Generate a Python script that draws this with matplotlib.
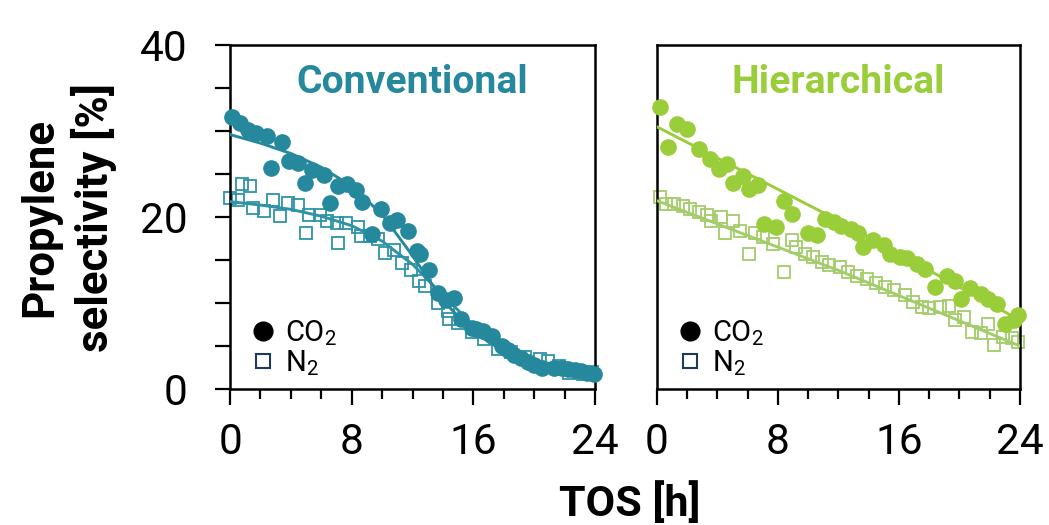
import numpy as np
import matplotlib
matplotlib.use("Agg")
import matplotlib.pyplot as plt
from matplotlib.lines import Line2D
from matplotlib.ticker import MultipleLocator

plt.rcParams['font.family'] = ['Roboto', 'DejaVu Sans']
plt.rcParams['mathtext.fontset'] = 'custom'
plt.rcParams['mathtext.rm'] = 'Roboto'
plt.rcParams['mathtext.it'] = 'Roboto:italic'
plt.rcParams['mathtext.bf'] = 'Roboto:bold'

# Conventional, CO2 (filled circles)
conv_co2_t = [0.1, 0.65, 1.2, 1.7, 2.4, 2.7, 3.4, 3.9, 4.5, 4.9, 5.4, 6.2, 6.6, 7.1, 7.7,
              8.3, 8.7, 9.3, 9.9, 10.5, 11.0, 11.7, 12.3, 12.5, 13.1, 13.7, 14.2, 14.7,
              15.2, 15.9, 16.2, 16.6, 17.2, 17.9, 18.3, 18.7, 19.1, 19.6, 20.0, 20.5,
              21.3, 21.8, 22.2, 22.7, 23.1, 23.5, 23.9]
conv_co2 = [31.7, 30.9, 30.1, 29.8, 29.4, 25.7, 28.7, 26.5, 26.3, 24.0, 25.5, 24.9, 21.6,
            23.6, 23.8, 23.2, 21.8, 18.0, 20.9, 19.3, 19.7, 18.4, 16.0, 15.7, 13.9, 11.2,
            10.3, 10.6, 8.1, 7.1, 7.0, 6.8, 6.2, 5.0, 4.5, 3.9, 3.6, 3.1, 2.8, 2.5,
            2.5, 2.4, 2.3, 2.2, 2.1, 1.9, 1.7]

# Conventional, N2 (open squares)
conv_n2_t = [0.0, 0.5, 0.8, 1.3, 1.5, 2.2, 2.8, 3.3, 3.8, 4.5, 5.0, 5.2, 5.9, 6.4, 7.0,
             7.1, 7.6, 8.4, 8.6, 9.2, 9.7, 10.2, 10.8, 11.3, 11.9, 12.4, 12.8, 13.7,
             14.3, 14.4, 15.0, 15.9, 16.7, 17.6, 18.5, 19.4, 20.4, 20.9, 21.6, 22.3,
             23.2, 23.8]
conv_n2 = [22.2, 22.0, 23.8, 23.6, 21.1, 20.7, 22.0, 20.1, 21.6, 21.4, 18.2, 20.3, 20.3,
           19.5, 19.3, 17.0, 19.3, 18.9, 17.8, 17.8, 17.4, 15.8, 16.2, 14.7, 13.9, 12.6,
           12.0, 10.0, 9.1, 8.1, 7.7, 6.6, 5.8, 4.6, 4.3, 3.7, 3.5, 3.3, 2.7, 1.9,
           1.8, 2.0]

# Conventional fit curves
conv_fit_t = [0, 2, 4, 6, 8, 10, 12, 14, 16, 18, 20, 22, 24]
conv_co2_fit = [29.6, 28.6, 27.4, 25.8, 23.6, 20.3, 15.5, 10.3, 6.6, 4.4, 3.1, 2.4, 2.0]
conv_n2_fit = [21.8, 21.4, 20.9, 20.1, 19.0, 17.2, 14.5, 10.9, 7.4, 4.9, 3.4, 2.5, 2.0]

# Hierarchical, CO2
hier_co2_t = [0.2, 0.75, 1.3, 2.0, 2.8, 3.5, 4.1, 4.6, 5.0, 5.7, 6.1, 6.7, 7.1, 7.9, 8.4,
              8.9, 10.0, 10.6, 11.1, 11.7, 12.2, 12.8, 13.3, 13.6, 14.3, 15.0, 15.4,
              16.1, 16.5, 17.2, 17.7, 18.4, 19.2, 19.7, 20.1, 20.7, 21.4, 21.9, 22.5,
              23.0, 23.6, 23.9]
hier_co2 = [32.8, 28.1, 30.8, 30.2, 27.9, 26.7, 25.6, 26.2, 24.0, 24.8, 23.3, 23.7, 19.2,
            18.8, 21.9, 20.4, 18.2, 17.9, 19.8, 19.4, 19.0, 18.6, 18.2, 16.5, 17.3, 16.7,
            15.7, 15.3, 15.2, 14.6, 14.0, 11.9, 13.2, 12.6, 10.5, 11.7, 11.1, 10.5, 9.9,
            7.6, 8.0, 8.6]

# Hierarchical, N2
hier_n2_t = [0.2, 0.6, 1.1, 1.7, 2.2, 2.8, 3.3, 3.6, 4.2, 4.5, 5.0, 5.5, 6.1, 6.5, 7.0,
             7.7, 8.4, 8.9, 9.2, 9.8, 10.3, 10.9, 11.4, 12.1, 12.6, 13.2, 13.9, 14.5,
             15.1, 15.7, 16.4, 16.9, 17.5, 18.0, 18.7, 19.3, 19.7, 20.3, 20.8, 21.4,
             21.9, 22.3, 22.9, 23.5, 23.9]
hier_n2 = [22.3, 21.5, 21.5, 21.3, 20.9, 20.6, 20.2, 19.6, 20.0, 18.2, 19.6, 18.4, 15.7,
           18.1, 17.7, 16.9, 13.6, 17.3, 16.5, 15.7, 15.3, 14.8, 14.4, 14.2, 13.6, 13.2,
           12.8, 12.3, 11.9, 11.5, 10.9, 10.1, 9.5, 9.4, 9.5, 9.7, 8.0, 8.4, 6.6, 6.5,
           7.6, 5.1, 6.1, 5.9, 5.5]

# Hierarchical fit lines
hier_fit_t = [0, 12, 24]
hier_co2_fit = [30.5, 19.6, 8.0]
hier_n2_fit = [21.9, 13.8, 5.0]

panels = [
    ("Conventional", "#25889d", "#2e93a6",
     conv_co2_t, conv_co2, conv_n2_t, conv_n2, conv_fit_t, conv_co2_fit, conv_n2_fit),
    ("Hierarchical", "#9acd3a", "#a3cc6a",
     hier_co2_t, hier_co2, hier_n2_t, hier_n2, hier_fit_t, hier_co2_fit, hier_n2_fit),
]

fig = plt.figure(figsize=(10.49, 5.25), dpi=100)
ax_l = fig.add_axes([0.2193, 0.259, 0.348, 0.655])
ax_r = fig.add_axes([0.6263, 0.259, 0.346, 0.655])

for ax, (title, c1, c2, t1, y1, t2, y2, tf, f1, f2) in zip([ax_l, ax_r], panels):
    ax.plot(t2, y2, linestyle='none', marker='s', ms=9, mfc='none', mec=c2, mew=1.3,
            clip_on=False, zorder=2)
    ax.plot(tf, f2, color=c2, lw=2.1, zorder=3)
    ax.plot(t1, y1, linestyle='none', marker='o', ms=12, color=c1, mec='none',
            clip_on=False, zorder=4)
    ax.plot(tf, f1, color=c1, lw=2.1, zorder=5)

    ax.set_xlim(0, 24)
    ax.set_ylim(0, 40)
    ax.xaxis.set_major_locator(MultipleLocator(8))
    ax.xaxis.set_minor_locator(MultipleLocator(2))
    ax.tick_params(axis='x', which='major', direction='out', length=11.5, width=1.6,
                   labelsize=30.5, pad=12)
    ax.tick_params(axis='x', which='minor', direction='out', length=7, width=1.6)
    for sp in ax.spines.values():
        sp.set_linewidth(1.8)

    ax.text(0.5, 0.89, title, transform=ax.transAxes, ha='center', va='center',
            fontsize=28.2, fontweight='bold', color=c1)

    handles = [
        Line2D([], [], linestyle='none', marker='o', ms=13.5, color='black'),
        Line2D([], [], linestyle='none', marker='s', ms=10, mfc='none', mec='#1f3b5c', mew=1.5),
    ]
    ax.legend(handles, ['CO$_2$', 'N$_2$'], loc='lower left', bbox_to_anchor=(0.01, -0.018),
              frameon=False, fontsize=21, handlelength=0.8, handletextpad=0.35,
              labelspacing=-0.02, borderaxespad=0.2)

ax_l.yaxis.set_major_locator(MultipleLocator(20))
ax_l.yaxis.set_minor_locator(MultipleLocator(5))
ax_l.tick_params(axis='y', which='both', direction='out', length=10.5, width=1.6,
                 labelsize=30.5, pad=20)
ax_l.set_ylabel("Propylene\nselectivity [%]", fontsize=31.5, fontweight='bold',
                linespacing=1.25)
ax_l.yaxis.set_label_coords(-0.31, 0.5)

ax_r.set_yticks([])

fig.text(0.6, 0.0, "TOS [h]", ha='center', va='bottom', fontsize=31, fontweight='bold')

fig.savefig("out.png", dpi=100)
